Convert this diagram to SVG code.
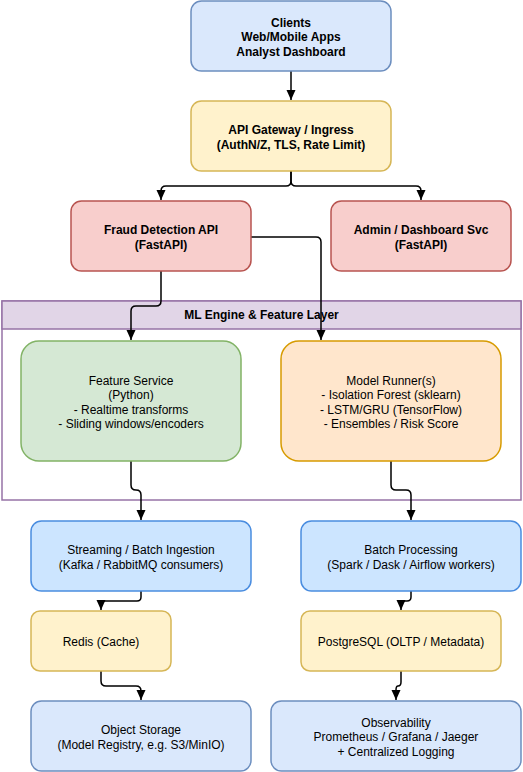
<svg xmlns="http://www.w3.org/2000/svg" width="523" height="772" viewBox="0 0 523 772">
<defs>
<style>
text{font-family:"Liberation Sans",Arial,sans-serif;font-size:12px;fill:#000;text-anchor:middle}
.b{font-weight:bold}
.n{stroke-width:1.5}
.blue{fill:#dae8fc;stroke:#6c8ebf}
.blue2{fill:#cce5ff;stroke:#4a8de0}
.yel{fill:#fff2cc;stroke:#d6b656}
.red{fill:#f8cecc;stroke:#b85450}
.grn{fill:#d5e8d4;stroke:#82b366}
.org{fill:#ffe6cc;stroke:#d79b00}
.e{fill:none;stroke:#000;stroke-width:1.5}
</style>
<marker id="a" markerUnits="userSpaceOnUse" markerWidth="10" markerHeight="10" refX="10" refY="4.5" orient="auto">
<path d="M0,0 L10,4.5 L0,9 z" fill="#000"/>
</marker>
</defs>
<rect width="523" height="772" fill="#fff"/>

<g id="ml-engine">
<rect x="2" y="301" width="519" height="199" fill="#fff" stroke="#9673a6" stroke-width="1.5"/>
<rect x="2" y="301" width="519" height="28" fill="#e1d5e7" stroke="#9673a6" stroke-width="1.5"/>
<text class="b" x="261.5" y="319">ML Engine &amp; Feature Layer</text>
</g>

<g id="connectors">
<path class="e" marker-end="url(#a)" d="M291,71 V100"/>
<path class="e" marker-end="url(#a)" d="M291,171 V181 Q291,186 286,186 H166 Q161,186 161,191 V200"/>
<path class="e" marker-end="url(#a)" d="M291,171 V181 Q291,186 296,186 H416 Q421,186 421,191 V200"/>
<path class="e" marker-end="url(#a)" d="M161,271 V301 Q161,306 156,306 H136 Q131,306 131,311 V340"/>
<path class="e" marker-end="url(#a)" d="M251,237 H316 Q321,237 321,242 V340"/>
<path class="e" marker-end="url(#a)" d="M131,461 V485 Q131,490 136,490 Q141,490 141,495 V520"/>
<path class="e" marker-end="url(#a)" d="M391,461 V485 Q391,490 396,490 H406 Q411,490 411,495 V520"/>
<path class="e" marker-end="url(#a)" d="M141,591 V597 Q141,601 137,601 H105 Q101,601 101,605 V610"/>
<path class="e" marker-end="url(#a)" d="M411,591 V597 Q411,601 407,601 H405 Q401,601 401,605 V610"/>
<path class="e" marker-end="url(#a)" d="M101,671 V681 Q101,686 106,686 H136 Q141,686 141,691 V700"/>
<path class="e" marker-end="url(#a)" d="M401,671 V682 Q401,686 398,686 Q396,686 396,690 V700"/>
</g>

<g id="clients">
<rect class="n blue" x="191" y="1" width="200" height="70" rx="10.5"/>
<text class="b" x="291" y="27">Clients</text>
<text class="b" x="291" y="41">Web/Mobile Apps</text>
<text class="b" x="291" y="56">Analyst Dashboard</text>
</g>

<g id="api-gateway">
<rect class="n yel" x="191" y="101" width="200" height="70" rx="10.5"/>
<text class="b" x="291" y="134">API Gateway / Ingress</text>
<text class="b" x="291" y="149">(AuthN/Z, TLS, Rate Limit)</text>
</g>

<g id="fraud-api">
<rect class="n red" x="71" y="201" width="180" height="70" rx="10.5"/>
<text class="b" x="161" y="234">Fraud Detection API</text>
<text class="b" x="161" y="249">(FastAPI)</text>
</g>

<g id="admin-svc">
<rect class="n red" x="331" y="201" width="180" height="70" rx="10.5"/>
<text class="b" x="421" y="234">Admin / Dashboard Svc</text>
<text class="b" x="421" y="249">(FastAPI)</text>
</g>

<g id="feature-service">
<rect class="n grn" x="21" y="341" width="220" height="120" rx="18"/>
<text x="131" y="385">Feature Service</text>
<text x="131" y="399">(Python)</text>
<text x="131" y="414">- Realtime transforms</text>
<text x="131" y="428">- Sliding windows/encoders</text>
</g>

<g id="model-runner">
<rect class="n org" x="281" y="341" width="220" height="120" rx="18"/>
<text x="391" y="385">Model Runner(s)</text>
<text x="391" y="399">- Isolation Forest (sklearn)</text>
<text x="391" y="414">- LSTM/GRU (TensorFlow)</text>
<text x="391" y="428">- Ensembles / Risk Score</text>
</g>

<g id="streaming">
<rect class="n blue2" x="31" y="521" width="220" height="70" rx="10.5"/>
<text x="141" y="554">Streaming / Batch Ingestion</text>
<text x="141" y="569">(Kafka / RabbitMQ consumers)</text>
</g>

<g id="batch">
<rect class="n blue2" x="301" y="521" width="220" height="70" rx="10.5"/>
<text x="411" y="554">Batch Processing</text>
<text x="411" y="569">(Spark / Dask / Airflow workers)</text>
</g>

<g id="redis">
<rect class="n yel" x="31" y="611" width="140" height="60" rx="9"/>
<text x="101" y="646">Redis (Cache)</text>
</g>

<g id="postgres">
<rect class="n yel" x="301" y="611" width="200" height="60" rx="9"/>
<text x="401" y="646">PostgreSQL (OLTP / Metadata)</text>
</g>

<g id="object-storage">
<rect class="n blue" x="31" y="701" width="220" height="70" rx="10.5"/>
<text x="141" y="734">Object Storage</text>
<text x="141" y="749">(Model Registry, e.g. S3/MinIO)</text>
</g>

<g id="observability">
<rect class="n blue" x="271" y="701" width="250" height="70" rx="10.5"/>
<text x="396" y="727">Observability</text>
<text x="396" y="741">Prometheus / Grafana / Jaeger</text>
<text x="396" y="756">+ Centralized Logging</text>
</g>
</svg>
